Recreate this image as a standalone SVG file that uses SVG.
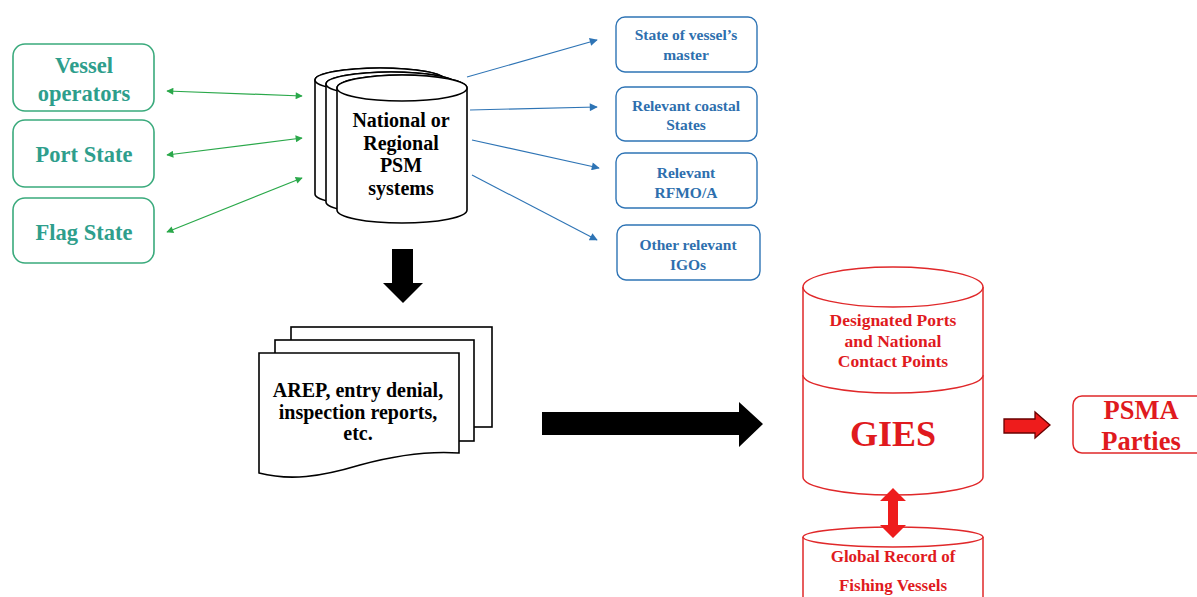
<svg xmlns="http://www.w3.org/2000/svg" width="1197" height="597" viewBox="0 0 1197 597">
<defs>
<style>
.t{font-family:"Liberation Serif","Times New Roman",serif;font-weight:bold;text-anchor:middle}
.gbox{fill:#fff;stroke:#3aaa7c;stroke-width:1.6}
.gt{fill:#2e9e8c;font-size:22.5px}
.bbox{fill:#fff;stroke:#2e74b5;stroke-width:1.4}
.bt{fill:#2e6fae;font-size:15.5px}
.cyl{fill:#fff;stroke:#000;stroke-width:1.6}
.red{fill:#fff;stroke:#e0282a;stroke-width:1.5}
.rt{fill:#e01a1e}
.ga{stroke:#2aa84a;stroke-width:1.2;fill:none;marker-start:url(#gs);marker-end:url(#ge)}
.ba{stroke:#2e74b5;stroke-width:1.1;fill:none;marker-end:url(#be)}
</style>
<marker id="ge" viewBox="0 0 10 10" refX="9" refY="5" markerWidth="9" markerHeight="7" markerUnits="userSpaceOnUse" orient="auto"><path d="M0,0 L10,5 L0,10 Z" fill="#2aa84a"/></marker>
<marker id="gs" viewBox="0 0 10 10" refX="1" refY="5" markerWidth="9" markerHeight="7" markerUnits="userSpaceOnUse" orient="auto"><path d="M10,0 L0,5 L10,10 Z" fill="#2aa84a"/></marker>
<marker id="be" viewBox="0 0 10 10" refX="9" refY="5" markerWidth="10" markerHeight="8" markerUnits="userSpaceOnUse" orient="auto"><path d="M0,0 L10,5 L0,10 Z" fill="#2e74b5"/></marker>
</defs>
<rect width="1197" height="597" fill="#fff"/>

<g id="vessel-operators"><rect class="gbox" x="13" y="44" width="141" height="67" rx="12"/><text class="t gt" x="84" y="73">Vessel</text><text class="t gt" x="84" y="101">operators</text></g>
<g id="port-state"><rect class="gbox" x="13" y="120" width="141" height="67" rx="12"/><text class="t gt" x="84" y="162">Port State</text></g>
<g id="flag-state"><rect class="gbox" x="13" y="198" width="141" height="65" rx="12"/><text class="t gt" x="84" y="240">Flag State</text></g>

<g id="psm-systems">
<path class="cyl" d="M315,80 V194 A65,12 0 0 0 445,194 V80 A65,12 0 0 0 315,80 Z"/><ellipse class="cyl" cx="380" cy="80" rx="65" ry="12"/>
<path class="cyl" d="M326,84 V202 A65,12 0 0 0 456,202 V84 A65,12 0 0 0 326,84 Z"/><ellipse class="cyl" cx="391" cy="84" rx="65" ry="12"/>
<path class="cyl" d="M337,88 V210 A65,13 0 0 0 467,210 V88 A65,13 0 0 0 337,88 Z"/><ellipse class="cyl" cx="402" cy="88" rx="65" ry="13"/>
<text class="t" font-size="20" x="401" y="127">National or</text>
<text class="t" font-size="20" x="401" y="150">Regional</text>
<text class="t" font-size="20" x="401" y="172">PSM</text>
<text class="t" font-size="20" x="401" y="195">systems</text>
</g>

<g id="state-master"><rect class="bbox" x="616" y="17" width="141" height="55" rx="9"/><text class="t bt" x="686" y="40">State of vessel’s</text><text class="t bt" x="686" y="60">master</text></g>
<g id="coastal-states"><rect class="bbox" x="616" y="87" width="141" height="54" rx="9"/><text class="t bt" x="686" y="111">Relevant coastal</text><text class="t bt" x="686" y="130">States</text></g>
<g id="rfmo"><rect class="bbox" x="616" y="153" width="141" height="55" rx="9"/><text class="t bt" x="686" y="178">Relevant</text><text class="t bt" x="686" y="198">RFMO/A</text></g>
<g id="igos"><rect class="bbox" x="617" y="225" width="143" height="55" rx="9"/><text class="t bt" x="688" y="250">Other relevant</text><text class="t bt" x="688" y="270">IGOs</text></g>

<g id="reports">
<rect class="cyl" x="291" y="327" width="201" height="100"/>
<rect class="cyl" x="275" y="340" width="199" height="101"/>
<path class="cyl" d="M259,353 H459 V453 C430,451 400,454 360,465 C320,477 290,481 259,473 Z"/>
<text class="t" font-size="20" x="358" y="397">AREP, entry denial,</text>
<text class="t" font-size="20" x="358" y="419">inspection reports,</text>
<text class="t" font-size="20" x="358" y="440">etc.</text>
</g>

<g id="gies">
<path class="red" d="M803,287 V477 A90,18 0 0 0 983,477 V287"/>
<ellipse class="red" cx="893" cy="287" rx="90" ry="20"/>
<path class="red" d="M803,375 A90,18 0 0 0 983,375"/>
<text class="t rt" font-size="17.5" x="893" y="326">Designated Ports</text>
<text class="t rt" font-size="17.5" x="893" y="347">and National</text>
<text class="t rt" font-size="17.5" x="893" y="367">Contact  Points</text>
<text class="t rt" font-size="36" x="893" y="446">GIES</text>
</g>

<g id="global-record">
<path class="red" d="M803,537 V600 M983,537 V600"/>
<ellipse class="red" cx="893" cy="537" rx="90" ry="10"/>
<text class="t rt" font-size="17" x="893" y="562">Global Record of</text>
<text class="t rt" font-size="17" x="893" y="591">Fishing Vessels</text>
</g>

<g id="psma-parties">
<rect class="red" x="1073" y="396" width="140" height="57" rx="9"/>
<text class="t rt" font-size="26.5" x="1141" y="419">PSMA</text>
<text class="t rt" font-size="26.5" x="1141" y="450">Parties</text>
</g>

<g id="connectors">
<line class="ga" x1="167" y1="91" x2="302" y2="96"/>
<line class="ga" x1="167" y1="155" x2="302" y2="138"/>
<line class="ga" x1="167" y1="232" x2="302" y2="178"/>
<line class="ba" x1="467" y1="77" x2="597" y2="40"/>
<line class="ba" x1="470" y1="110" x2="597" y2="107"/>
<line class="ba" x1="472" y1="140" x2="599" y2="168"/>
<line class="ba" x1="472" y1="175" x2="597" y2="240"/>
<path d="M392,249 H413 V283 H423 L403,303 L383,283 H392 Z" fill="#000"/>
<path d="M542,412 H739 V402 L763,424 L739,447 V435 H542 Z" fill="#000"/>
<path d="M893,488 L906,501 H898 V525 H906 L893,538 L880,525 H888 V501 H880 Z" fill="#ee1c1c"/>
<path d="M1004,419 H1035 V412 L1050,425 L1035,438 V433 H1004 Z" fill="#ee1c1c" stroke="#6a0000" stroke-width="1.3"/>
</g>
</svg>
